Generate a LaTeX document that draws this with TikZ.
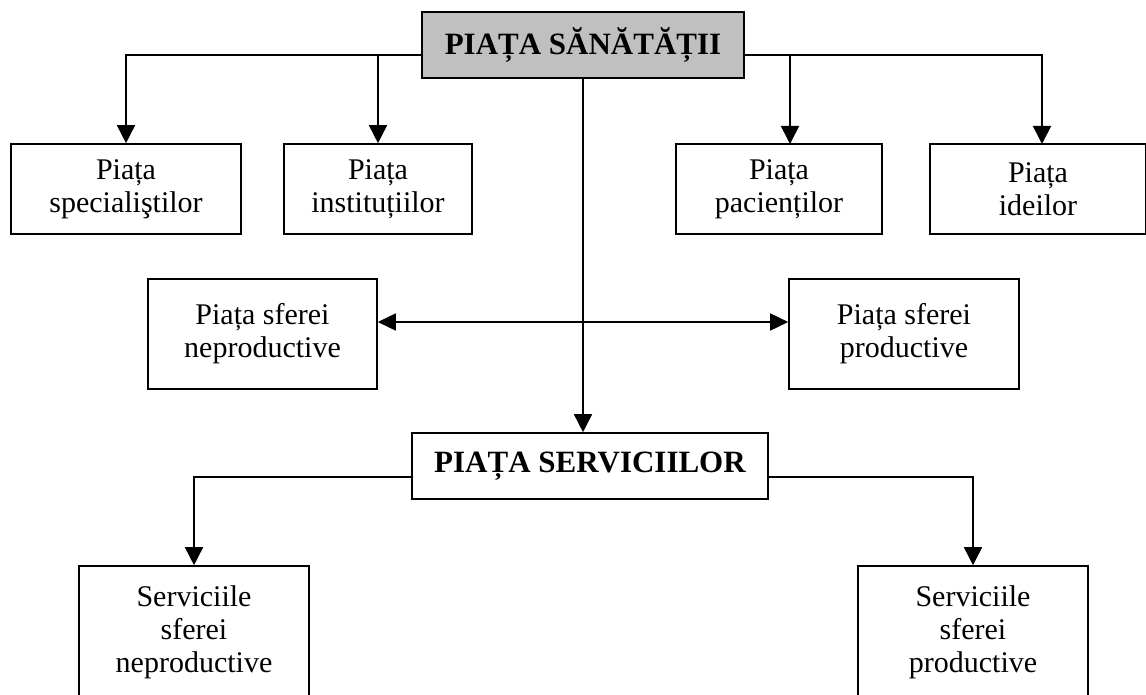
\documentclass[tikz,border=0pt]{standalone}
\usepackage{fontspec}
\setmainfont{Liberation Serif}
\usetikzlibrary{arrows.meta}
\definecolor{boxgray}{RGB}{192,192,192}
\tikzset{
  box/.style={draw, line width=1.6pt, align=center, inner sep=0pt,
    font=\fontsize{30}{33}\selectfont},
  titlebox/.style={box, font=\fontsize{31}{34}\selectfont\bfseries},
  conn/.style={line width=1.6pt},
  arr/.style={conn, -{Triangle[length=18pt,width=18pt]}},
  darr/.style={conn, {Triangle[length=18pt,width=17pt]}-{Triangle[length=18pt,width=17pt]}}
}
\begin{document}
\begin{tikzpicture}[x=1pt,y=-1pt]
\useasboundingbox (0,0) rectangle (1146,695);
% nodes
\node[titlebox, fill=boxgray, minimum width=322pt, minimum height=66pt] (top) at (583,45) {PIAȚA SĂNĂTĂȚII};
\node[box, minimum width=230pt, minimum height=90pt] (b1) at (126,189) {Piața\\specialiştilor};
\node[box, minimum width=188pt, minimum height=90pt] (b2) at (378,189) {Piața\\instituțiilor};
\node[box, minimum width=206pt, minimum height=90pt] (b3) at (779,189) {Piața\\pacienților};
\node[box, minimum width=216pt, minimum height=90pt] (b4) at (1038,189) {Piața\\ideilor};
\node[box, minimum width=229pt, minimum height=110pt] (m1) at (262.5,334) {Piața sferei\\neproductive};
\node[box, minimum width=230pt, minimum height=110pt] (m2) at (904,334) {Piața sferei\\productive};
\node[titlebox, minimum width=356pt, minimum height=66pt] (svc) at (590,466) {PIAȚA SERVICIILOR};
\node[box, minimum width=230pt, minimum height=132pt] (s1) at (194,632) {Serviciile\\sferei\\neproductive};
\node[box, minimum width=230pt, minimum height=132pt] (s2) at (973,632) {Serviciile\\sferei\\productive};
% arrow targets
\coordinate (a3) at (790,144);
\coordinate (a4) at (1042,144);
% connectors
\draw[arr] ([yshift=-10pt]top.west) -| (b1.north);
\draw[arr] ([yshift=-10pt]top.west) -| (b2.north);
\draw[arr] ([yshift=-10pt]top.east) -| (a3);
\draw[arr] ([yshift=-10pt]top.east) -| (a4);
\draw[arr] (top.south) -- (top.south |- svc.north);
\draw[darr] ([yshift=12pt]m1.east) -- ([yshift=12pt]m2.west);
\draw[arr] ([yshift=-11pt]svc.west) -| (s1.north);
\draw[arr] ([yshift=-11pt]svc.east) -| (s2.north);
\end{tikzpicture}
\end{document}
